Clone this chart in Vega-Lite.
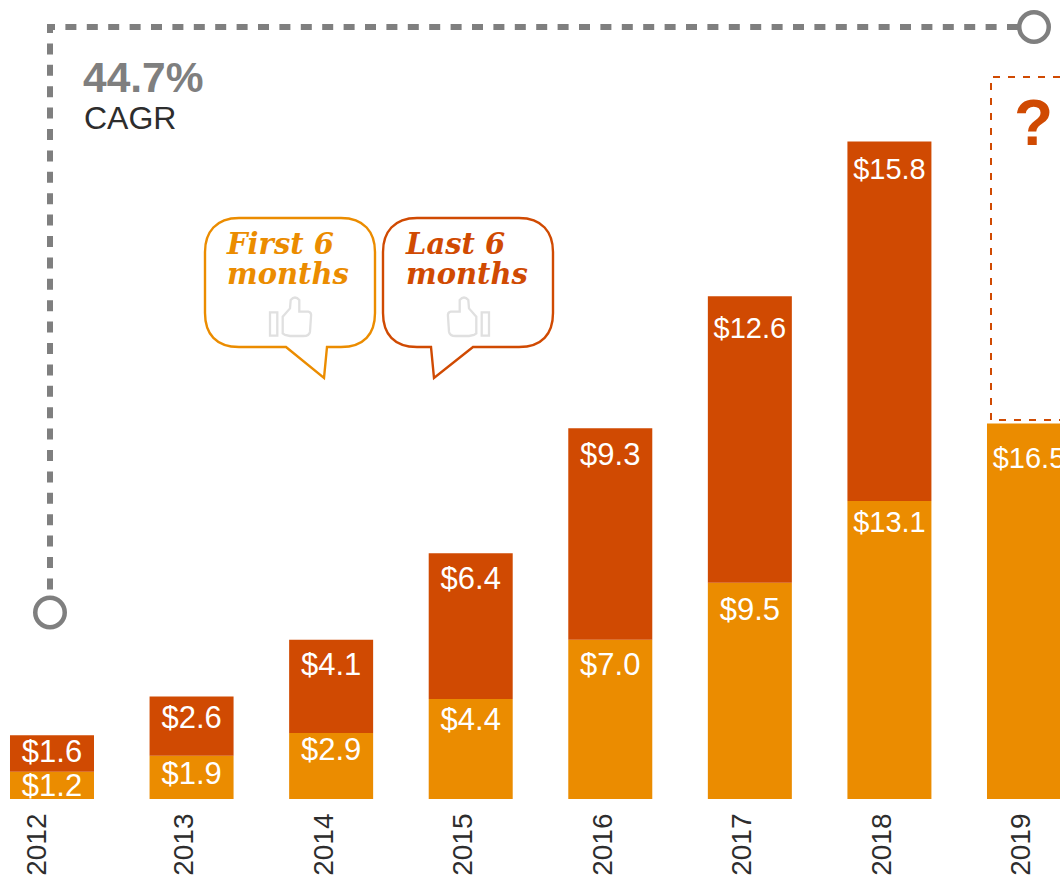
{
"$schema":"https://vega.github.io/schema/vega-lite/v6.json",
"width":1060,"height":875,"autosize":{"type":"none"},"padding":0,"background":"white",
"config":{"view":{"stroke":null},"font":"Liberation Sans"},
"data":{"values":[
{"year":2012,"half":"First 6 months","value":1.2},{"year":2012,"half":"Last 6 months","value":1.6},
{"year":2013,"half":"First 6 months","value":1.9},{"year":2013,"half":"Last 6 months","value":2.6},
{"year":2014,"half":"First 6 months","value":2.9},{"year":2014,"half":"Last 6 months","value":4.1},
{"year":2015,"half":"First 6 months","value":4.4},{"year":2015,"half":"Last 6 months","value":6.4},
{"year":2016,"half":"First 6 months","value":7.0},{"year":2016,"half":"Last 6 months","value":9.3},
{"year":2017,"half":"First 6 months","value":9.5},{"year":2017,"half":"Last 6 months","value":12.6},
{"year":2018,"half":"First 6 months","value":13.1},{"year":2018,"half":"Last 6 months","value":15.8},
{"year":2019,"half":"First 6 months","value":16.5}
]},
"transform":[{"stack":"value","groupby":["year"],"sort":[{"field":"half","order":"ascending"}],"as":["y0","y1"]}],
"encoding":{
"x":{"field":"year","type":"quantitative","scale":{"domain":[2011.62743,2019.22219],"nice":false,"zero":false,"padding":0},
"axis":{"values":[2012,2013,2014,2015,2016,2017,2018,2019],"format":"d","title":null,"domain":false,"ticks":false,"grid":false,"labelAngle":270,"labelFontSize":28,"labelColor":"#2D2D2D","labelFont":"Liberation Sans","labelPadding":0,"offset":-62,"labelOverlap":false,"labelFlush":false,"labelBound":false,"labelOffset":{"expr":"datum.value===2012?-14:-7"}}},
"y":{"type":"quantitative","scale":{"domain":[-3.3407,35.1209],"nice":false,"zero":false},"axis":null}
},
"layer":[
{"mark":{"type":"bar","width":84,"orient":"vertical"},
"encoding":{"y":{"field":"y0","type":"quantitative"},"y2":{"field":"y1"},
"color":{"field":"half","type":"nominal","scale":{"domain":["First 6 months","Last 6 months"],"range":["#EB8C00","#D04A02"]},"legend":null}}},
{"transform":[{"filter":{"field":"value","oneOf":[1.2]}}],"mark":{"type":"text","fontSize":31,"color":"white","baseline":"middle","dy":15},"encoding":{"y":{"field":"y1","type":"quantitative"},"text":{"field":"value","type":"quantitative","format":"$.1f"}}},
{"transform":[{"filter":{"field":"value","oneOf":[1.6,2.9]}}],"mark":{"type":"text","fontSize":31,"color":"white","baseline":"middle","dy":17.7},"encoding":{"y":{"field":"y1","type":"quantitative"},"text":{"field":"value","type":"quantitative","format":"$.1f"}}},
{"transform":[{"filter":{"field":"value","oneOf":[1.9]}}],"mark":{"type":"text","fontSize":31,"color":"white","baseline":"middle","dy":19.5},"encoding":{"y":{"field":"y1","type":"quantitative"},"text":{"field":"value","type":"quantitative","format":"$.1f"}}},
{"transform":[{"filter":{"field":"value","oneOf":[2.6,4.4]}}],"mark":{"type":"text","fontSize":31,"color":"white","baseline":"middle","dy":22.5},"encoding":{"y":{"field":"y1","type":"quantitative"},"text":{"field":"value","type":"quantitative","format":"$.1f"}}},
{"transform":[{"filter":{"field":"value","oneOf":[4.1,6.4,7.0]}}],"mark":{"type":"text","fontSize":31,"color":"white","baseline":"middle","dy":26.5},"encoding":{"y":{"field":"y1","type":"quantitative"},"text":{"field":"value","type":"quantitative","format":"$.1f"}}},
{"transform":[{"filter":{"field":"value","oneOf":[9.3,9.5]}}],"mark":{"type":"text","fontSize":31,"color":"white","baseline":"middle","dy":28},"encoding":{"y":{"field":"y1","type":"quantitative"},"text":{"field":"value","type":"quantitative","format":"$.1f"}}},
{"transform":[{"filter":{"field":"value","oneOf":[13.1]}}],"mark":{"type":"text","fontSize":29,"color":"white","baseline":"middle","dy":22},"encoding":{"y":{"field":"y1","type":"quantitative"},"text":{"field":"value","type":"quantitative","format":"$.1f"}}},
{"transform":[{"filter":{"field":"value","oneOf":[15.8]}}],"mark":{"type":"text","fontSize":29,"color":"white","baseline":"middle","dy":28},"encoding":{"y":{"field":"y1","type":"quantitative"},"text":{"field":"value","type":"quantitative","format":"$.1f"}}},
{"transform":[{"filter":{"field":"value","oneOf":[12.6]}}],"mark":{"type":"text","fontSize":29,"color":"white","baseline":"middle","dy":33},"encoding":{"y":{"field":"y1","type":"quantitative"},"text":{"field":"value","type":"quantitative","format":"$.1f"}}},
{"transform":[{"filter":{"field":"value","oneOf":[16.5]}}],"mark":{"type":"text","fontSize":29,"color":"white","baseline":"middle","dy":35},"encoding":{"y":{"field":"y1","type":"quantitative"},"text":{"field":"value","type":"quantitative","format":"$.1f"}}},
{"data":{"values":[{"i":1,"year":2011.98567,"v":8.1978},{"i":2,"year":2011.98567,"v":33.934},{"i":3,"year":2019.0359,"v":33.934}]},
"mark":{"type":"line","color":"#7F7F7F","strokeWidth":6,"strokeDash":[11,10.4],"strokeDashOffset":19.7,"interpolate":"linear"},
"encoding":{"x":{"field":"year","type":"quantitative"},"y":{"field":"v","type":"quantitative"},"order":{"field":"i","type":"quantitative"}}},
{"data":{"values":[{"year":2011.98567,"v":8.1978},{"year":2019.0359,"v":33.934}]},
"mark":{"type":"point","shape":"circle","size":870,"filled":true,"fill":"white","stroke":"#7F7F7F","strokeWidth":4.5,"opacity":1},
"encoding":{"x":{"field":"year","type":"quantitative"},"y":{"field":"v","type":"quantitative"}}},
{"data":{"values":[{"i":1,"year":2019.22219,"v":31.736},{"i":2,"year":2018.72781,"v":31.736},{"i":3,"year":2018.72781,"v":16.659},{"i":4,"year":2019.22219,"v":16.659}]},
"mark":{"type":"line","color":"#D04A02","strokeWidth":2,"strokeDash":[7,8],"interpolate":"linear"},
"encoding":{"x":{"field":"year","type":"quantitative"},"y":{"field":"v","type":"quantitative"},"order":{"field":"i","type":"quantitative"}}},
{"data":{"values":[{"label":"?","year":2019.0324,"v":28.75}]},"mark":{"type":"text","font":"Liberation Sans","fontWeight":"bold","fontSize":64,"color":"#D04A02","align":"center","baseline":"alphabetic"},
"encoding":{"x":{"field":"year","type":"quantitative"},"y":{"field":"v","type":"quantitative"},"text":{"field":"label"}}},
{"data":{"values":[{"label":"44.7%","year":2012.2221,"v":31.077}]},"mark":{"type":"text","fontWeight":"bold","fontSize":42.5,"color":"#7F7F7F","align":"left","baseline":"alphabetic"},
"encoding":{"x":{"field":"year","type":"quantitative"},"y":{"field":"v","type":"quantitative"},"text":{"field":"label"}}},
{"data":{"values":[{"label":"CAGR","year":2012.2293,"v":29.451}]},"mark":{"type":"text","fontSize":32,"color":"#2D2D2D","align":"left","baseline":"alphabetic"},
"encoding":{"x":{"field":"year","type":"quantitative"},"y":{"field":"v","type":"quantitative"},"text":{"field":"label"}}},
{"data":{"values":[{"year":2013.70524,"v":22.725}]},"mark":{"type":"point","size":4,"opacity":1,"filled":false,"stroke":"#EB8C00","strokeWidth":2.4,"shape":"M-51,-64 H51 C74,-64 85,-50 85,-30 V31 C85,52 74,65 51,65 H37 L34,96 L-4,65 H-51 C-74,65 -85,52 -85,31 V-30 C-85,-50 -74,-64 -51,-64 Z"},
"encoding":{"x":{"field":"year","type":"quantitative"},"y":{"field":"v","type":"quantitative"}}},
{"data":{"values":[{"year":2014.98059,"v":22.725}]},"mark":{"type":"point","size":4,"opacity":1,"filled":false,"stroke":"#D04A02","strokeWidth":2.4,"shape":"M-51,-64 H51 C74,-64 85,-50 85,-30 V31 C85,52 74,65 51,65 H5 L-34,96 L-37,65 H-51 C-74,65 -85,52 -85,31 V-30 C-85,-50 -74,-64 -51,-64 Z"},
"encoding":{"x":{"field":"year","type":"quantitative"},"y":{"field":"v","type":"quantitative"}}},
{"data":{"values":[{"year":2013.70524,"v":21.2}]},"mark":{"type":"point","size":4,"opacity":1,"filled":false,"stroke":"#E0E0E0","strokeWidth":2.3,"shape":"M-7.3,16.7 V0 L0,-8.3 L0.7,-16.7 Q5,-21.7 9.3,-16.7 V-5 H18.3 Q21.7,-4.3 21,0 L20,15 Q19.3,19.3 13.3,19.3 H0 L-5,18.3 Z M-20,-4.3 H-12.7 V19 H-20 Z"},
"encoding":{"x":{"field":"year","type":"quantitative"},"y":{"field":"v","type":"quantitative"}}},
{"data":{"values":[{"year":2014.98776,"v":21.2}]},"mark":{"type":"point","size":4,"opacity":1,"filled":false,"stroke":"#E0E0E0","strokeWidth":2.3,"shape":"M7.3,16.7 V0 L0,-8.3 L-0.7,-16.7 Q-5,-21.7 -9.3,-16.7 V-5 H-18.3 Q-21.7,-4.3 -21,0 L-20,15 Q-19.3,19.3 -13.3,19.3 H0 L5,18.3 Z M20,-4.3 H12.7 V19 H20 Z"},
"encoding":{"x":{"field":"year","type":"quantitative"},"y":{"field":"v","type":"quantitative"}}},
{"data":{"values":[{"label":"First 6","year":2013.25385,"v":23.956},{"label":"months","year":2013.25385,"v":22.637}]},"mark":{"type":"text","font":"DejaVu Serif","fontWeight":"bold","fontStyle":"italic","fontSize":29,"color":"#EB8C00","align":"left","baseline":"alphabetic"},
"encoding":{"x":{"field":"year","type":"quantitative"},"y":{"field":"v","type":"quantitative"},"text":{"field":"label"}}},
{"data":{"values":[{"label":"Last 6","year":2014.53636,"v":23.956},{"label":"months","year":2014.53636,"v":22.637}]},"mark":{"type":"text","font":"DejaVu Serif","fontWeight":"bold","fontStyle":"italic","fontSize":29,"color":"#D04A02","align":"left","baseline":"alphabetic"},
"encoding":{"x":{"field":"year","type":"quantitative"},"y":{"field":"v","type":"quantitative"},"text":{"field":"label"}}}
]
}
